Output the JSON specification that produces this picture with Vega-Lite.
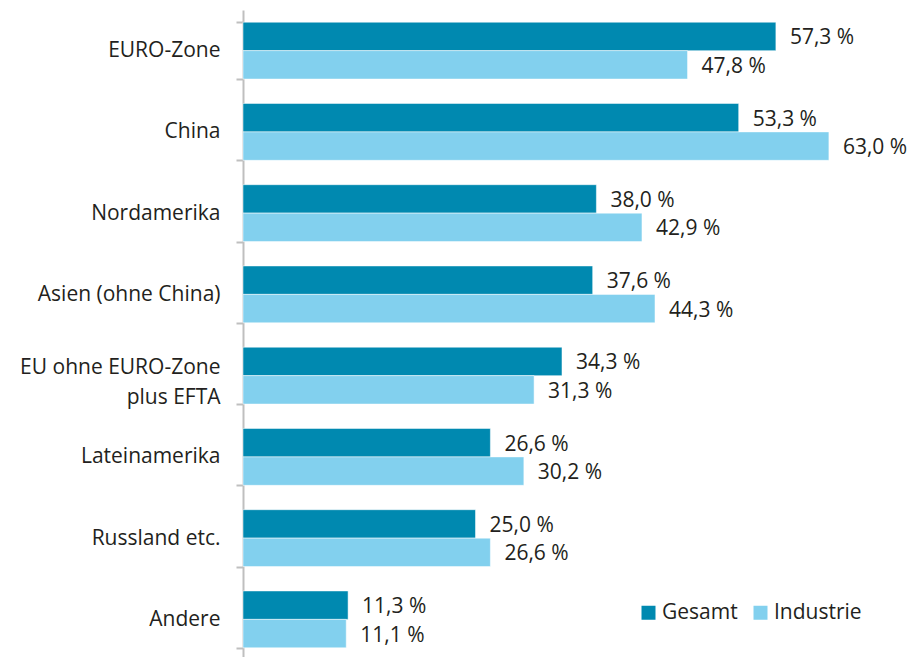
{
  "$schema": "https://vega.github.io/schema/vega-lite/v6.json",
  "autosize": {"type": "none"},
  "width": 651,
  "height": 650,
  "padding": {"left": 243, "top": 10, "right": 16, "bottom": 0},
  "background": "white",
  "config": {
    "font": "Open Sans",
    "view": {"stroke": null}
  },
  "data": {
    "values": [
      {"region": "EURO-Zone", "series": "Gesamt", "value": 57.3},
      {"region": "EURO-Zone", "series": "Industrie", "value": 47.8},
      {"region": "China", "series": "Gesamt", "value": 53.3},
      {"region": "China", "series": "Industrie", "value": 63.0},
      {"region": "Nordamerika", "series": "Gesamt", "value": 38.0},
      {"region": "Nordamerika", "series": "Industrie", "value": 42.9},
      {"region": "Asien (ohne China)", "series": "Gesamt", "value": 37.6},
      {"region": "Asien (ohne China)", "series": "Industrie", "value": 44.3},
      {"region": "EU ohne EURO-Zone plus EFTA", "series": "Gesamt", "value": 34.3},
      {"region": "EU ohne EURO-Zone plus EFTA", "series": "Industrie", "value": 31.3},
      {"region": "Lateinamerika", "series": "Gesamt", "value": 26.6},
      {"region": "Lateinamerika", "series": "Industrie", "value": 30.2},
      {"region": "Russland etc.", "series": "Gesamt", "value": 25.0},
      {"region": "Russland etc.", "series": "Industrie", "value": 26.6},
      {"region": "Andere", "series": "Gesamt", "value": 11.3},
      {"region": "Andere", "series": "Industrie", "value": 11.1}
    ]
  },
  "transform": [
    {"calculate": "replace(format(datum.value, '.1f'), '.', ',') + ' %'", "as": "label"}
  ],
  "encoding": {
    "y": {
      "field": "region",
      "type": "nominal",
      "sort": null,
      "title": null,
      "scale": {"paddingInner": 0.3, "paddingOuter": 0.15},
      "axis": {
        "domainColor": "#BFBFBF",
        "domainWidth": 2,
        "tickColor": "#BFBFBF",
        "tickWidth": 2,
        "tickSize": 7,
        "tickBand": "extent",
        "labelFontSize": 21,
        "labelColor": "#231F20",
        "labelPadding": 16,
        "labelLimit": 300,
        "labelLineHeight": 30,
        "labelOffset": {"condition": {"test": "datum.value == 'EU ohne EURO-Zone plus EFTA'", "value": -8}, "value": 0},
        "labelExpr": "datum.value == 'EU ohne EURO-Zone plus EFTA' ? ['EU ohne EURO-Zone\u00a0', 'plus EFTA'] : datum.value"
      }
    },
    "yOffset": {"field": "series", "type": "nominal", "sort": ["Gesamt", "Industrie"]},
    "x": {
      "field": "value",
      "type": "quantitative",
      "scale": {"domain": [0, 70], "nice": false},
      "axis": null
    }
  },
  "layer": [
    {
      "mark": {"type": "bar", "stroke": "white", "strokeWidth": 0.5},
      "encoding": {
        "color": {
          "field": "series",
          "type": "nominal",
          "scale": {"domain": ["Gesamt", "Industrie"], "range": ["#0089B0", "#82D0EE"]},
          "legend": {
            "title": null,
            "orient": "none",
            "direction": "horizontal",
            "legendX": 395,
            "legendY": 592,
            "symbolType": "square",
            "symbolSize": 196,
            "symbolStrokeWidth": 0,
            "labelFontSize": 21,
            "labelColor": "#231F20",
            "labelOffset": 3,
            "columnPadding": 12,
            "encode": {
              "symbols": {
                "update": {
                  "fill": {"signal": "datum.value == 'Gesamt' ? '#006E91' : '#82D0EE'"}
                }
              }
            }
          }
        }
      }
    },
    {
      "mark": {"type": "text", "align": "left", "baseline": "middle", "dx": 14, "dy": 2, "fontSize": 21, "color": "#231F20"},
      "encoding": {"text": {"field": "label"}}
    }
  ]
}
